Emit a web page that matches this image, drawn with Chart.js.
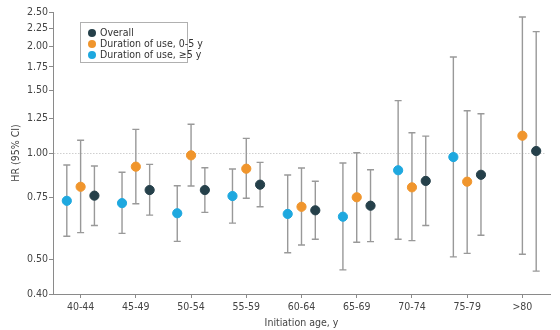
<!DOCTYPE html>
<html lang="en">
<head>
<meta charset="UTF-8">
<title>HR by initiation age</title>
<script src="https://cdn.jsdelivr.net/npm/chart.js"></script>
<style>
  html, body { margin: 0; padding: 0; background: #fff; }
  #wrap { position: relative; width: 560px; height: 330px; }
  #legend {
    position: absolute; left: 80px; top: 22px; width: 106px; height: 39px;
    border: 1px solid #b0b0b0; background: #fff;
    font: 10.5px "DejaVu Sans Condensed", "Liberation Sans Narrow", sans-serif; color: #333;
    padding: 0; box-sizing: content-box;
  }
  #legend div { position: absolute; left: 7px; white-space: nowrap; line-height: 11px; }
  #legend span { display: inline-block; width: 8px; height: 8px; border-radius: 50%; margin-right: 4px; vertical-align: -1px; }
</style>
</head>
<body>
<div id="wrap">
  <canvas id="c" width="560" height="330"></canvas>
  <div id="legend"></div>
</div>
<script>
// categories and values
const categories = ['40-44', '45-49', '50-54', '55-59', '60-64', '65-69', '70-74', '75-79', '>80'];
const yTicks = [0.40, 0.50, 0.75, 1.00, 1.25, 1.50, 1.75, 2.00, 2.25, 2.50];

const overall   = [0.758, 0.786, 0.786, 0.814, 0.689, 0.710, 0.834, 0.868, 1.013];
const overallLo = [0.624, 0.668, 0.680, 0.705, 0.571, 0.562, 0.624, 0.586, 0.464];
const overallHi = [0.919, 0.929, 0.909, 0.941, 0.832, 0.897, 1.116, 1.291, 2.20];

const short0to5   = [0.803, 0.915, 0.985, 0.903, 0.705, 0.750, 0.800, 0.830, 1.119];
const short0to5Lo = [0.596, 0.719, 0.807, 0.745, 0.550, 0.560, 0.566, 0.521, 0.518];
const short0to5Hi = [1.086, 1.166, 1.205, 1.100, 0.907, 1.002, 1.141, 1.316, 2.42];

const long5   = [0.733, 0.722, 0.676, 0.756, 0.673, 0.661, 0.894, 0.974, null];
const long5Lo = [0.582, 0.593, 0.563, 0.634, 0.523, 0.468, 0.571, 0.509, null];
const long5Hi = [0.925, 0.882, 0.808, 0.901, 0.867, 0.937, 1.405, 1.866, null];

const series = [
  { label: 'Duration of use, ≥5 y',   hr: long5,     lo: long5Lo,     hi: long5Hi,     color: '#1ea8df', shift: -0.25 },
  { label: 'Duration of use, 0-5 y',  hr: short0to5, lo: short0to5Lo, hi: short0to5Hi, color: '#f0952c', shift: 0 },
  { label: 'Overall',                 hr: overall,   lo: overallLo,   hi: overallHi,   color: '#25404a', shift: 0.25 }
];
const legendOrder = ['Overall', 'Duration of use, 0-5 y', 'Duration of use, ≥5 y'];

const FONT = '"DejaVu Sans Condensed", "Liberation Sans Narrow", sans-serif';

const datasets = series.map(s => ({
  label: s.label,
  data: s.hr.map((v, i) => v == null ? null : { x: i + s.shift, y: v, lo: s.lo[i], hi: s.hi[i] }).filter(p => p),
  backgroundColor: s.color,
  borderColor: s.color,
  pointRadius: 4.6,
  pointHoverRadius: 4.6,
  showLine: false
}));

// error bars + dotted reference line, behind the points
const errorBars = {
  id: 'errorBars',
  beforeDatasetsDraw(chart) {
    const ctx = chart.ctx, xs = chart.scales.x, ys = chart.scales.y, area = chart.chartArea;
    ctx.save();
    ctx.strokeStyle = '#cfcfcf';
    ctx.lineWidth = 1;
    ctx.setLineDash([1.5, 1.5]);
    const y1 = Math.round(ys.getPixelForValue(1)) + 0.5;
    ctx.beginPath();
    ctx.moveTo(area.left + 1, y1);
    ctx.lineTo(area.right - 5, y1);
    ctx.stroke();
    ctx.setLineDash([]);
    ctx.strokeStyle = '#999';
    ctx.lineWidth = 1.4;
    chart.data.datasets.forEach(ds => {
      ds.data.forEach(p => {
        const x = xs.getPixelForValue(p.x);
        const yl = ys.getPixelForValue(p.lo), yh = ys.getPixelForValue(p.hi);
        ctx.beginPath();
        ctx.moveTo(x, yl); ctx.lineTo(x, yh);
        ctx.moveTo(x - 3.5, yl); ctx.lineTo(x + 3.5, yl);
        ctx.moveTo(x - 3.5, yh); ctx.lineTo(x + 3.5, yh);
        ctx.stroke();
      });
    });
    ctx.restore();
  }
};

new Chart(document.getElementById('c'), {
  type: 'scatter',
  data: { datasets },
  options: {
    responsive: false,
    animation: false,
    events: [],
    layout: { padding: { left: 0, right: 10, top: 12, bottom: 0 } },
    plugins: { legend: { display: false }, tooltip: { enabled: false } },
    scales: {
      x: {
        type: 'linear', min: -0.5, max: 8.5,
        afterBuildTicks: s => { s.ticks = categories.map((c, i) => ({ value: i })); },
        afterFit: s => { s.height = 36; },
        ticks: { callback: v => categories[v], color: '#444', font: { family: FONT, size: 10.5 }, padding: 3, maxRotation: 0, autoSkip: false },
        grid: { drawOnChartArea: false, drawTicks: true, tickLength: 4, color: '#8a8a8a' },
        border: { color: '#8a8a8a', width: 1 },
        title: { display: true, text: 'Initiation age, y', color: '#444', font: { family: FONT, size: 10.5 }, padding: { top: 1, bottom: 0 } }
      },
      y: {
        type: 'logarithmic', min: 0.4, max: 2.5,
        afterBuildTicks: s => { s.ticks = yTicks.map(v => ({ value: v })); },
        afterFit: s => { s.width = 53; },
        ticks: { callback: v => v.toFixed(2), color: '#444', font: { family: FONT, size: 10.5 }, padding: 1, autoSkip: false },
        grid: { drawOnChartArea: false, drawTicks: true, tickLength: 4, color: '#8a8a8a' },
        border: { color: '#8a8a8a', width: 1 },
        title: { display: true, text: 'HR (95% CI)', color: '#444', font: { family: FONT, size: 10.5 }, padding: { top: 10, bottom: 0 } }
      }
    }
  },
  plugins: [errorBars]
});

// legend inside the plot
const legend = document.getElementById('legend');
legendOrder.forEach((name, k) => {
  const s = series.find(d => d.label === name);
  const row = document.createElement('div');
  row.style.top = (4 + k * 11) + 'px';
  row.innerHTML = '<span style="background:' + s.color + '"></span>' + name;
  legend.appendChild(row);
});
</script>
</body>
</html>
